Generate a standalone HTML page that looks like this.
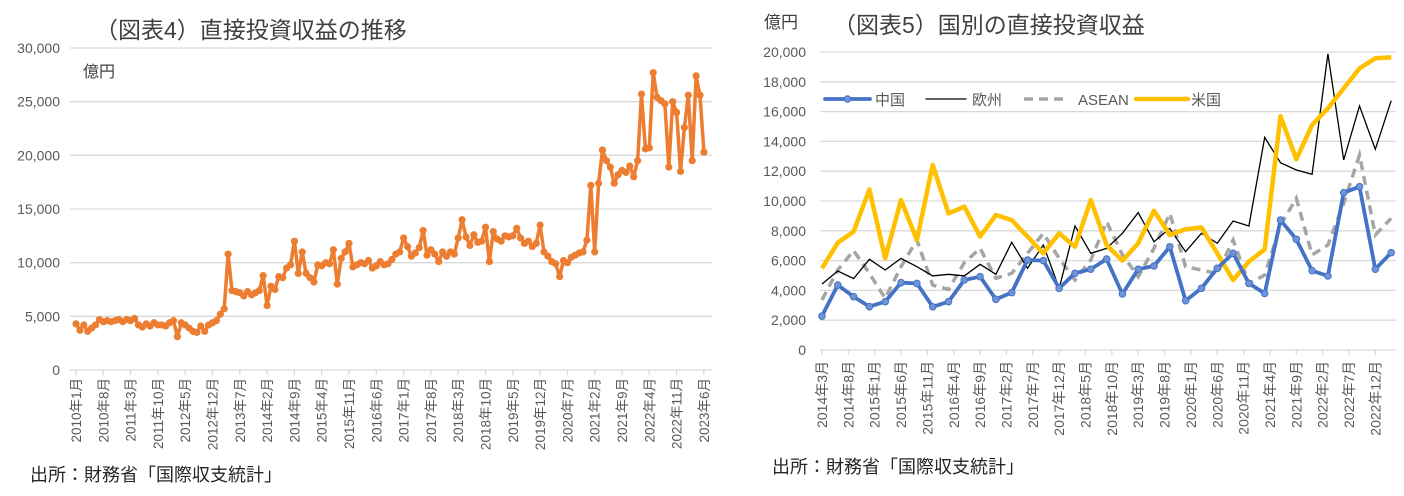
<!DOCTYPE html>
<html><head><meta charset="utf-8">
<style>
html,body{margin:0;padding:0;background:#fff;}
svg{display:block;font-family:"Liberation Sans","Noto Sans CJK JP",sans-serif;}
</style></head>
<body>
<svg id="root" width="1404" height="496" viewBox="0 0 1404 496">
<g id="left"></g>
<g id="right"></g>
<text x="95" y="38" font-size="23" fill="#404040">（図表4）直接投資収益の推移</text>
<text x="83" y="77" font-size="16" fill="#404040">億円</text>
<text x="30" y="481" font-size="18" fill="#262626">出所：財務省「国際収支統計」</text>
<text x="764" y="28" font-size="17" fill="#404040">億円</text>
<text x="833" y="33" font-size="23" fill="#404040">（図表5）国別の直接投資収益</text>
<text x="772" y="473" font-size="18" fill="#262626">出所：財務省「国際収支統計」</text>
</svg>
<script>
// ---- Left chart data (monthly, 2010/1 - 2023/6) ----
const leftStartYear = 2010;
const leftStartMonth = 1;
const leftValues = [
4300,3700,4200,3600,3900,4200,4700,4500,4600,4500,4600,4700,
4500,4700,4600,4800,4200,4000,4300,4100,4400,4200,4200,4100,
4400,4600,3100,4400,4200,3900,3600,3500,4100,3600,4200,4400,
4600,5200,5700,10800,7400,7300,7200,6900,7300,7000,7200,7400,
8800,6000,7800,7500,8700,8600,9500,9800,12000,9000,11000,9000,
8600,8200,9800,9700,10000,9900,11200,8000,10400,11000,11800,9600,
9800,10000,9900,10200,9500,9700,10100,9800,9900,10300,10800,11000,
12300,11500,10600,10900,11400,13000,10700,11200,10800,10100,11000,10600,
11000,10800,12300,14000,12400,11600,12600,11900,12000,13300,10100,12900,
12200,12000,12500,12400,12500,13200,12300,11800,12000,11500,11800,13500,
11000,10600,10100,9900,8700,10200,10000,10500,10700,10900,11000,12100,
17200,11000,17400,20500,19500,18900,17400,18200,18600,18400,19000,18000,
19500,25700,20600,20700,27700,25400,25100,24800,18900,25000,24000,18500,
22600,25600,19500,27400,25600,20300];
const leftYTicks = [0,5000,10000,15000,20000,25000,30000];
const leftLabelStep = 7;

// ---- Right chart data (quarterly, 2014/3 - 2023/3) ----
const rightStartYear = 2014;
const rightStartMonth = 3;
const rightStepMonths = 3;
const chinaValues = [2280,4360,3580,2910,3240,4520,4470,2900,3240,4700,4920,3400,3850,6040,6000,4140,5150,5420,6100,3760,5420,5640,6930,3310,4140,5480,6490,4470,3800,8720,7430,5320,4970,10560,10960,5420,6530];
const europeValues = [4430,5300,4790,6090,5370,6150,5590,4970,5080,4970,5750,5080,7230,5480,7050,4140,8320,6490,6820,7830,9220,7270,8160,6600,7830,7160,8660,8320,14270,12570,12080,11790,19870,12750,16380,13470,16730];
const aseanValues = [3360,5370,6670,5140,3470,5590,7380,4360,4070,5860,6820,4810,5140,6490,7830,6150,4700,6040,8610,6380,4920,6820,9170,5590,5370,5140,7380,4470,5030,8390,10180,6380,7050,9840,13090,7720,8840];
const usValues = [5480,7200,7940,10780,6150,10070,7380,12420,9170,9620,7610,9060,8720,7610,6490,7830,6930,10070,7050,5990,7160,9350,7720,8100,8230,6490,4700,5930,6760,15700,12800,15100,16220,17560,18900,19580,19640];
const rightYTicks = [0,2000,4000,6000,8000,10000,12000,14000,16000,18000,20000];
const rightLabelStepMonths = 5;
const rightLabelCount = 22;
const seriesNames = ["中国","欧州","ASEAN","米国"];

const NS = "http://www.w3.org/2000/svg";
function mk(tag, attrs, parent){
  const e = document.createElementNS(NS, tag);
  for (const k in attrs) e.setAttribute(k, attrs[k]);
  parent.appendChild(e);
  return e;
}
function fmt(v){ return v.toLocaleString('en-US'); }

// ---------- Left chart ----------
const L = document.getElementById('left');
const lx0 = 76, ldx = 3.9, lxl = 70, lxr = 712;
const lyScale = v => 370 - v * (322 / 30000);
const lxScale = i => lx0 + i * ldx;
leftYTicks.forEach(t => {
  const y = lyScale(t);
  if (t > 0) {
    const g = mk('line', {x1:lxl, x2:lxr, y1:y, y2:y, stroke:'#d9d9d9', 'stroke-width':1.3}, L);
    
    
  }
  const tx = mk('text', {x:60, y:y+5, 'text-anchor':'end', 'font-size':14, fill:'#595959'}, L);
  tx.textContent = fmt(t);
  
  
});
const lAxis = mk('line', {x1:lxl, x2:lxr, y1:370, y2:370, stroke:'#d9d9d9', 'stroke-width':1.3}, L);


for (let i = 0; i < leftValues.length; i += leftLabelStep) {
  const x = lxScale(i);
  const tk = mk('line', {x1:x, x2:x, y1:370, y2:375, stroke:'#d9d9d9', 'stroke-width':1.3}, L);
  
  
  const mIdx = leftStartMonth - 1 + i;
  const yr = leftStartYear + Math.floor(mIdx / 12), mo = mIdx % 12 + 1;
  const tx = mk('text', {x:0, y:0, 'text-anchor':'end', 'font-size':13.5, fill:'#595959', transform:`translate(${x+5},378) rotate(-90)`}, L);
  tx.textContent = yr + '年' + mo + '月';
  
  
}
const lPts = leftValues.map((v,i) => lxScale(i).toFixed(1) + ',' + lyScale(v).toFixed(1)).join(' ');
const lLine = mk('polyline', {points:lPts, fill:'none', stroke:'#ed7d31', 'stroke-width':3.5, 'stroke-linejoin':'round'}, L);


leftValues.forEach((v,i) => {
  const c = mk('circle', {cx:lxScale(i), cy:lyScale(v), r:3.6, fill:'#ed7d31'}, L);
  
  
});

// ---------- Right chart ----------
const R = document.getElementById('right');
const rx0 = 822, rpm = 5.27, rxl = 820, rxr = 1396;
const ryScale = v => 350 - v * (298 / 20000);
const rxMonth = m => rx0 + m * rpm;
rightYTicks.forEach(t => {
  const y = ryScale(t);
  if (t > 0) {
    const g = mk('line', {x1:rxl, x2:rxr, y1:y, y2:y, stroke:'#d9d9d9', 'stroke-width':1.3}, R);
    
    
  }
  const tx = mk('text', {x:806, y:y+5, 'text-anchor':'end', 'font-size':14, fill:'#595959'}, R);
  tx.textContent = fmt(t);
  
  
});
const rAxis = mk('line', {x1:rxl, x2:rxr, y1:350, y2:350, stroke:'#d9d9d9', 'stroke-width':1.3}, R);


for (let k = 0; k < rightLabelCount; k++) {
  const m = k * rightLabelStepMonths;
  const x = rxMonth(m);
  const tk = mk('line', {x1:x, x2:x, y1:350, y2:355, stroke:'#d9d9d9', 'stroke-width':1.3}, R);
  
  
  const mIdx = rightStartMonth - 1 + m;
  const tx = mk('text', {x:0, y:0, 'text-anchor':'end', 'font-size':14, fill:'#595959', transform:`translate(${x+5},361) rotate(-90)`}, R);
  tx.textContent = (rightStartYear + Math.floor(mIdx/12)) + '年' + (mIdx%12+1) + '月';
  
  
}
function rPts(arr){ return arr.map((v,i) => rxMonth(i*rightStepMonths).toFixed(1) + ',' + ryScale(v).toFixed(1)).join(' '); }
const s1 = mk('polyline', {points:rPts(aseanValues), fill:'none', stroke:'#a5a5a5', 'stroke-width':3.5, 'stroke-dasharray':'9,6'}, R);


const s2 = mk('polyline', {points:rPts(europeValues), fill:'none', stroke:'#000', 'stroke-width':1.3}, R);


const s3 = mk('polyline', {points:rPts(usValues), fill:'none', stroke:'#ffc000', 'stroke-width':4.5, 'stroke-linejoin':'round'}, R);


const s4 = mk('polyline', {points:rPts(chinaValues), fill:'none', stroke:'#4472c4', 'stroke-width':3.8, 'stroke-linejoin':'round'}, R);


chinaValues.forEach((v,i) => {
  const c = mk('circle', {cx:rxMonth(i*rightStepMonths), cy:ryScale(v), r:3.3, fill:'#6f95d8', stroke:'#4472c4', 'stroke-width':1}, R);
  
  
});

// legend
const lg = mk('g', {}, R);


const legendItems = [
  {x1:825,x2:870,tx:875,stroke:'#4472c4',w:3.8,dash:null,marker:true},
  {x1:926,x2:966,tx:972,stroke:'#000',w:1.3,dash:null,marker:false},
  {x1:1024,x2:1066,tx:1078,stroke:'#a5a5a5',w:3.5,dash:'9,6',marker:false},
  {x1:1136,x2:1188,tx:1191,stroke:'#ffc000',w:4.5,dash:null,marker:false}
];
legendItems.forEach((it,k) => {
  const e = mk('g', {}, lg);
  
  
  const a = {x1:it.x1, x2:it.x2, y1:99, y2:99, stroke:it.stroke, 'stroke-width':it.w, 'stroke-linecap':'round'};
  if (it.dash) { a['stroke-dasharray'] = it.dash; a['stroke-linecap'] = 'butt'; }
  mk('line', a, e);
  if (it.marker) mk('circle', {cx:(it.x1+it.x2)/2, cy:99, r:3.3, fill:'#6f95d8', stroke:'#4472c4'}, e);
  const t = mk('text', {x:it.tx, y:105, 'font-size':15, fill:'#595959'}, e);
  t.textContent = seriesNames[k];
});
</script>
</body></html>
